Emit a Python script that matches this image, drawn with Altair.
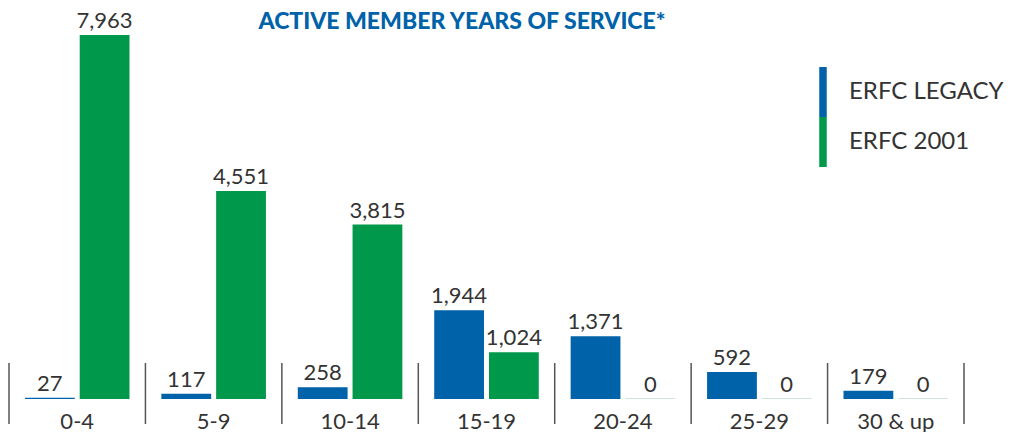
import altair as alt
import pandas as pd

title_text = ["ACTIVE MEMBER YEARS OF SERVICE*"]
groups = ["0-4", "5-9", "10-14", "15-19", "20-24", "25-29", "30 & up"]
series = ["ERFC LEGACY", "ERFC 2001"]
legacy = [27, 117, 258, 1944, 1371, 592, 179]
erfc2001 = [7963, 4551, 3815, 1024, 0, 0, 0]
colors = ["#0062a8", "#00984a"]

rows = []
for g, a, b in zip(groups, legacy, erfc2001):
    rows.append({"group": g, "series": series[0], "value": a})
    rows.append({"group": g, "series": series[1], "value": b})
df = pd.DataFrame(rows)

W, H = 955, 364
FONT = "Lato"
TXT = "#333333"

xenc = alt.X("group:N", sort=groups,
             scale=alt.Scale(paddingInner=0, paddingOuter=0),
             axis=alt.Axis(title=None, labelAngle=0, domain=False, ticks=False,
                           labelFontSize=22, labelColor=TXT, labelFont=FONT,
                           labelPadding=12))
xoff = alt.XOffset("series:N", sort=series,
                   scale=alt.Scale(paddingInner=0.0909, paddingOuter=0.2909))
yenc = alt.Y("value:Q", scale=alt.Scale(domain=[0, 7963], nice=False, zero=True),
             axis=None)

base = alt.Chart(df)

zero_line = base.mark_rect(color="#cfe3df").encode(
    x=xenc, xOffset=xoff, y=alt.value(H - 1), y2=alt.value(H)
)

bars = base.mark_bar().encode(
    x=xenc, xOffset=xoff, y=yenc,
    color=alt.Color("series:N", sort=series,
                    scale=alt.Scale(domain=series, range=colors),
                    legend=alt.Legend(title=None, orient="none", legendX=789, legendY=32,
                                      symbolType="M-0.15,-1H0.15V1H-0.15Z",
                                      symbolSize=2500, symbolStrokeWidth=0,
                                      symbolOpacity=1, rowPadding=0,
                                      labelFontSize=24, labelFont=FONT,
                                      labelColor=TXT, labelOffset=1,
                                      labelBaseline="middle", labelLimit=300)),
)

labels = base.mark_text(baseline="bottom", dy=-2, fontSize=22, font=FONT,
                        color=TXT).encode(
    x=xenc, xOffset=xoff, y=yenc, text=alt.Text("value:Q", format=",")
)

sep_df = pd.DataFrame({"group": groups})
sep_start = alt.Chart(sep_df).mark_rule(color="#555555", strokeWidth=1.5).encode(
    x=alt.X("group:N", sort=groups, bandPosition=0),
    y=alt.value(H - 36), y2=alt.value(H + 25)
)
sep_end = alt.Chart(sep_df).transform_filter(
    alt.datum.group == groups[-1]
).mark_rule(color="#555555", strokeWidth=1.5).encode(
    x=alt.X("group:N", sort=groups, bandPosition=1),
    y=alt.value(H - 36), y2=alt.value(H + 25)
)

title = alt.Chart(pd.DataFrame({"t": title_text})).mark_text(
    fontSize=23, font=FONT, fontWeight=900, color="#0062a8",
    align="center", baseline="alphabetic"
).encode(text="t:N", x=alt.value(453), y=alt.value(-6))

chart = alt.layer(zero_line, bars, labels, sep_start, sep_end, title).properties(
    width=W, height=H,
    padding={"left": 0, "top": 2, "right": 0, "bottom": 0},
).configure_view(stroke=None)

chart.save("out.html", embed_options={"renderer": "svg", "actions": False})
